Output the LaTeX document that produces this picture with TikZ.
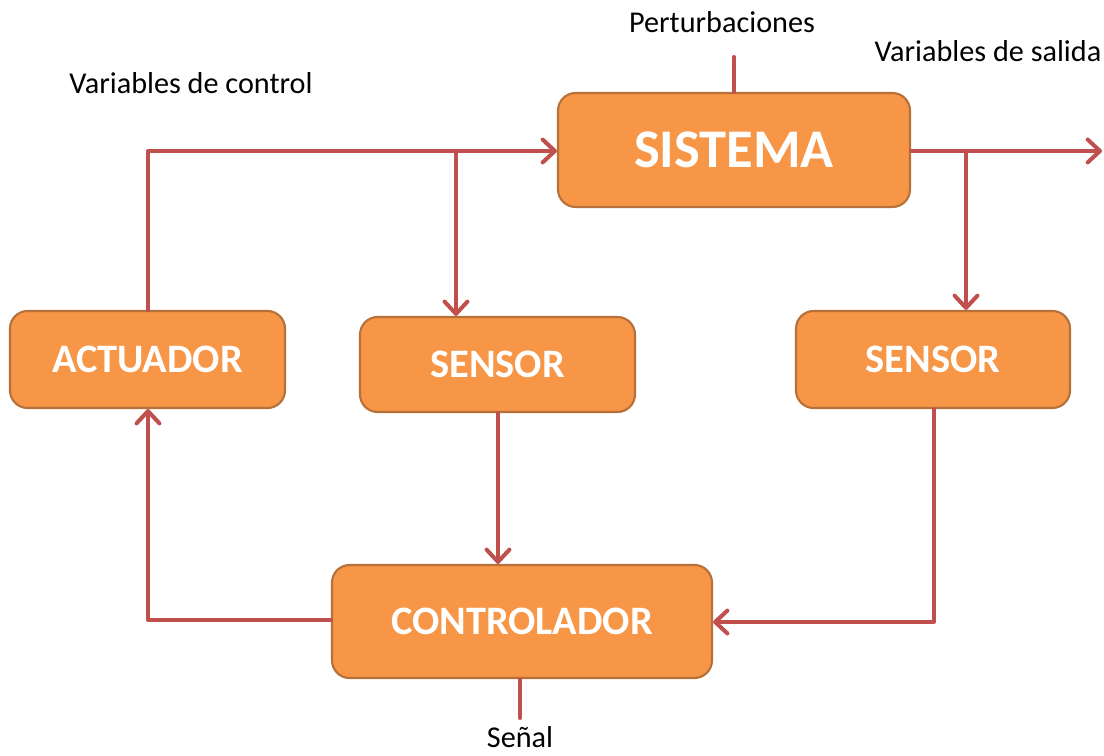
\documentclass[tikz,border=0pt]{standalone}
\usepackage{fontspec}
\setmainfont{Carlito}
\usetikzlibrary{arrows.meta}
\definecolor{boxfill}{HTML}{F79646}
\definecolor{boxline}{HTML}{B6703A}
\definecolor{wire}{HTML}{C0504D}
\tikzset{
  blk/.style={draw=boxline, line width=1.2pt, fill=boxfill, rounded corners=10pt,
    text=white, font=\bfseries, inner sep=0pt, anchor=center},
  conn/.style={draw=wire, line width=2.3pt, line cap=round, line join=round},
  arr/.style={conn, -{Straight Barb[length=7pt, width=13pt, line width=2.3pt, round]}},
  lbl/.style={font=\fontsize{17.2}{19}\selectfont, text=black, inner sep=0pt}
}
\begin{document}
\begin{tikzpicture}[x=0.02cm, y=-0.02cm]
\useasboundingbox (0,0) rectangle (1104,756);
% boxes
\node[blk, minimum width=352*0.02cm, minimum height=114*0.02cm, font=\bfseries\fontsize{31}{35}\selectfont] (sis) at (734,150) {SISTEMA};
\node[blk, minimum width=275*0.02cm, minimum height=97*0.02cm, font=\bfseries\fontsize{23}{26}\selectfont] (act) at (147.5,359.5) {ACTUADOR};
\node[blk, minimum width=275*0.02cm, minimum height=95*0.02cm, font=\bfseries\fontsize{23}{26}\selectfont] (sen1) at (497.5,364.5) {SENSOR};
\node[blk, minimum width=274*0.02cm, minimum height=97*0.02cm, font=\bfseries\fontsize{23}{26}\selectfont] (sen2) at (933,359.5) {SENSOR};
\node[blk, minimum width=380*0.02cm, minimum height=113*0.02cm, font=\bfseries\fontsize{23}{26}\selectfont] (ctl) at (522,621.5) {CONTROLADOR};
% labels
\node[lbl] (lpert) at (722,22) {Perturbaciones};
\node[lbl] (lctl) at (191,83) {Variables de control};
\node[lbl] (lsal) at (988,51) {Variables de salida};
\node[lbl] (lsen) at (520,737) {Señal};
% coordinates
\coordinate (tl) at (148,151);
\coordinate (b1) at (456,151);
\coordinate (b2) at (966,151);
\coordinate (out) at (1102,151);
\coordinate (pert) at (734,57);
\coordinate (senal) at (520,718);
\coordinate (rc) at (934,622);
\coordinate (lc) at (148,620);
\coordinate (s1b) at (498,0);
% connectors
\draw[conn] (act.north -| tl) -- (tl) -- (b1);
\draw[arr] (b1) -- (sis.west |- b1);
\draw[arr] (b1) -- (sen1.north -| b1);
\draw[conn] (sis.east |- b2) -- (b2);
\draw[arr] (b2) -- (out);
\draw[arr] (b2) -- (sen2.north -| b2);
\draw[arr] (sen2.south -| rc) -- (rc) -- (ctl.east |- rc);
\draw[arr] (sen1.south -| s1b) -- (ctl.north -| s1b);
\draw[arr] (ctl.west |- lc) -- (lc) -- (act.south -| lc);
\draw[conn] (pert) -- (sis.north -| pert);
\draw[conn] (ctl.south -| senal) -- (senal);
\end{tikzpicture}
\end{document}
